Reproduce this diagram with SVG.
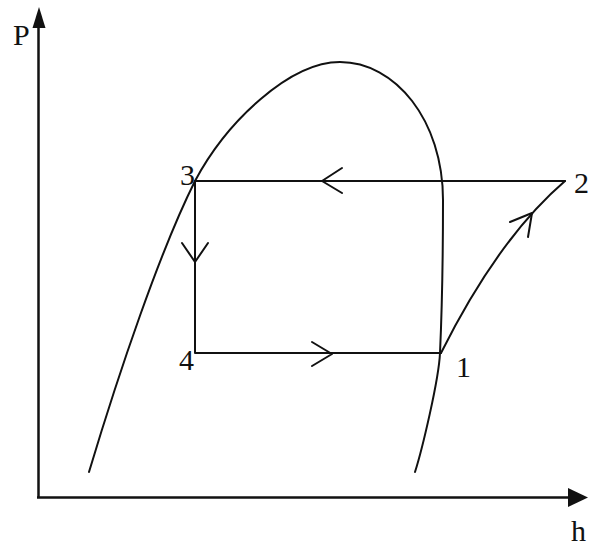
<svg xmlns="http://www.w3.org/2000/svg" width="589" height="546" viewBox="0 0 589 546">
<style>
.ln{fill:none;stroke:#111;stroke-width:2;stroke-linecap:round;stroke-linejoin:round}
.ax{fill:none;stroke:#111;stroke-width:2.5}
.lbl{font-family:"Liberation Serif","Times New Roman",serif;font-size:30px;fill:#111}
</style>
<rect width="589" height="546" fill="#fff"/>
<g id="axes">
<line class="ax" x1="38.5" y1="498" x2="38.5" y2="24"/>
<polygon points="39,7 32.5,28 45.5,28" fill="#111"/>
<line class="ax" x1="37" y1="497.5" x2="572" y2="497.5"/>
<polygon points="588,497.5 568,488 568,507" fill="#111"/>
<text class="lbl" x="13" y="45">P</text>
<text class="lbl" x="571" y="541">h</text>
</g>
<g id="saturation-dome">
<path class="ln" d="M89,472 C119,372 160,251 195,181 C227,121 290,62 340,62 C395,62 443,120 443,200 C443,260 441.5,320 440,353 C438.8,380 422,450 415,472"/>
</g>
<g id="connectors">
<path class="ln" d="M565,181 L195,181 L195,353 L441,353"/>
<path class="ln" d="M441,353 C465,305 508,230 565,181"/>
<polyline class="ln" points="342,168 322,181 342,193"/>
<polyline class="ln" points="182,243 195,262 208,243"/>
<polyline class="ln" points="312,342 332,354 312,366"/>
<polyline class="ln" points="510,222 532,213 528,237"/>
</g>
<g id="node-1"><text class="lbl" x="456" y="377">1</text></g>
<g id="node-2"><text class="lbl" x="574" y="193">2</text></g>
<g id="node-3"><text class="lbl" x="180" y="185">3</text></g>
<g id="node-4"><text class="lbl" x="179" y="370">4</text></g>
</svg>
